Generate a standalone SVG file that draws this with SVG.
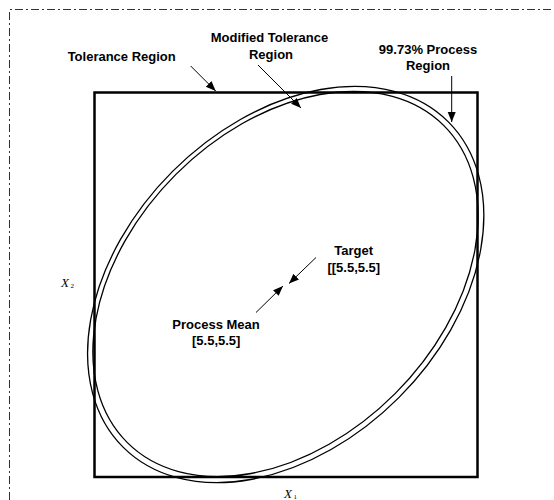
<svg xmlns="http://www.w3.org/2000/svg" width="554" height="500" viewBox="0 0 554 500">
<style>
.lbl{font-family:"Liberation Sans",Arial,sans-serif;font-weight:bold;font-size:13px;fill:#000;text-anchor:middle}
.ax{font-family:"Liberation Serif","Times New Roman",serif;font-style:italic;font-size:13px;fill:#000}
.sub{font-family:"Liberation Serif","Times New Roman",serif;font-size:7px;fill:#000}
.arr{stroke:#000;stroke-width:1;fill:none;marker-end:url(#ah)}
.ell{fill:none;stroke:#000;stroke-width:1.3}
</style>
<defs>
<marker id="ah" markerUnits="userSpaceOnUse" markerWidth="11" markerHeight="9" refX="10" refY="4" orient="auto">
<path d="M0,0 L10,4 L0,8 z" fill="#000"/>
</marker>
</defs>
<rect width="554" height="500" fill="#fff"/>
<g id="frame">
<path d="M9.5,500 V9.5 H554" fill="none" stroke="#333" stroke-width="1" stroke-dasharray="8,3,2,3"/>
</g>
<g id="tolerance-region">
<rect x="94.5" y="92.5" width="383" height="384.5" fill="none" stroke="#000" stroke-width="2.5"/>
</g>
<g id="process-region">
<ellipse class="ell" cx="285.7" cy="284.5" rx="230" ry="160" transform="rotate(-45 285.7 284.5)"/>
</g>
<g id="modified-tolerance-region">
<ellipse class="ell" cx="285.5" cy="284" rx="224" ry="155" transform="rotate(-45 285.5 284)"/>
</g>
<g id="connectors">
<line class="arr" x1="190.7" y1="66" x2="215.7" y2="91"/>
<line class="arr" x1="258" y1="65" x2="301" y2="108"/>
<line class="arr" x1="451.7" y1="76" x2="451.7" y2="122" stroke="#444"/>
<line class="arr" x1="316" y1="257.5" x2="289" y2="283.5"/>
<line class="arr" x1="256" y1="312.5" x2="283" y2="286"/>
</g>
<g id="label-tolerance">
<text class="lbl" x="121.7" y="61">Tolerance Region</text>
</g>
<g id="label-modified">
<text class="lbl" x="269.5" y="42">Modified Tolerance</text>
<text class="lbl" x="271" y="58.5">Region</text>
</g>
<g id="label-process">
<text class="lbl" x="428" y="54">99.73% Process</text>
<text class="lbl" x="428" y="69.5">Region</text>
</g>
<g id="label-target">
<text class="lbl" x="353.7" y="255">Target</text>
<text class="lbl" x="353.8" y="271.5">[[5.5,5.5]</text>
</g>
<g id="label-mean">
<text class="lbl" x="216" y="328.5">Process Mean</text>
<text class="lbl" x="216.2" y="345">[5.5,5.5]</text>
</g>
<g id="axis-x2">
<text class="ax" x="61" y="287">X</text><text class="sub" x="70.5" y="288">2</text>
</g>
<g id="axis-x1">
<text class="ax" x="284" y="498">X</text><text class="sub" x="293.5" y="499">1</text>
</g>
</svg>
